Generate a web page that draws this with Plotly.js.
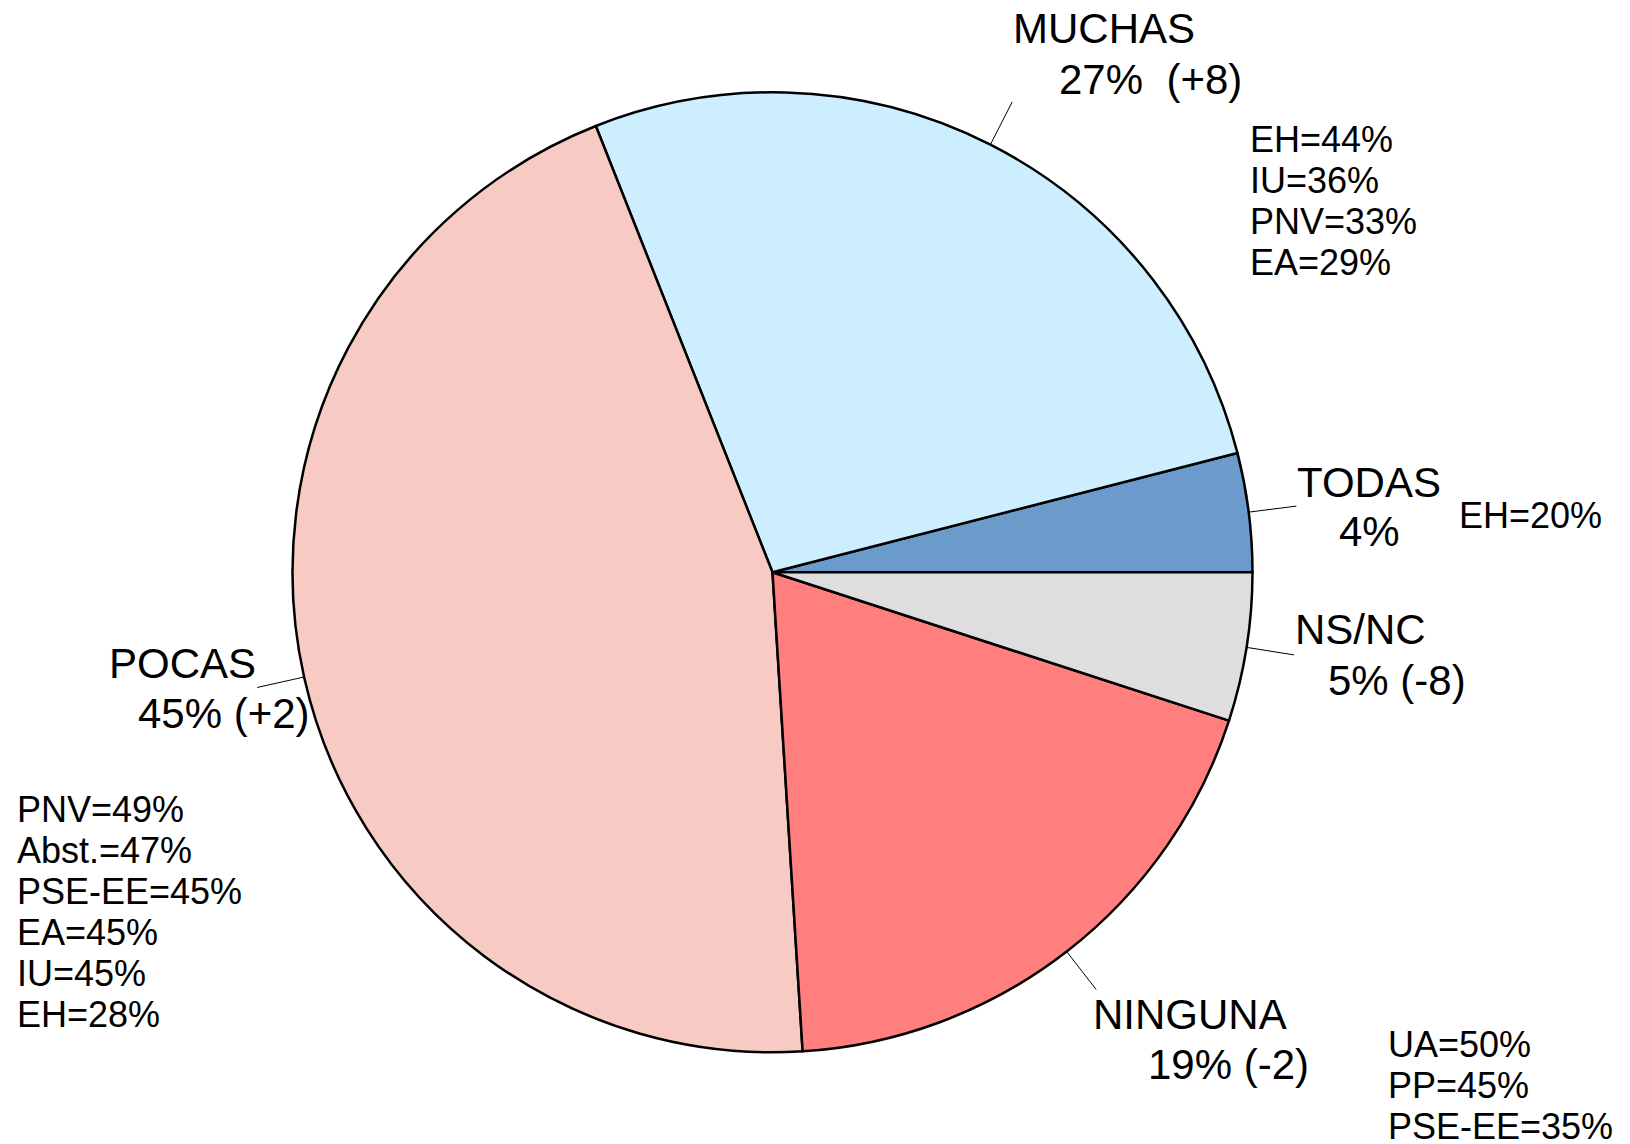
<!DOCTYPE html>
<html>
<head>
<meta charset="utf-8">
<script src="https://cdn.plot.ly/plotly-3.0.1.min.js"></script>
<style>html,body{margin:0;padding:0;background:#fff;}#chart{width:1630px;height:1144px;}</style>
</head>
<body>
<div id="chart"></div>
<script>
// ---- data ----
const categories = ['TODAS', 'MUCHAS', 'POCAS', 'NINGUNA', 'NS/NC'];
const values = [4, 27, 45, 19, 5];
const changes = ['', '(+8)', '(+2)', '(-2)', '(-8)'];
const partiesTODAS = ['EH=20%'];
const partiesMUCHAS = ['EH=44%', 'IU=36%', 'PNV=33%', 'EA=29%'];
const partiesPOCAS = ['PNV=49%', 'Abst.=47%', 'PSE-EE=45%', 'EA=45%', 'IU=45%', 'EH=28%'];
const partiesNINGUNA = ['UA=50%', 'PP=45%', 'PSE-EE=35%'];
const partiesNSNC = [];
const partyLists = [partiesTODAS, partiesMUCHAS, partiesPOCAS, partiesNINGUNA, partiesNSNC];

// ---- styling / layout ----
const colors = ['#6a9bcb', '#cdeeff', '#f7cbc3', '#ff7f7f', '#dedede'];
const W = 1630, H = 1144;
const cx = 772.5, cy = 572.3, R = 480;
const FONT = 'Liberation Sans, Arial, sans-serif';
const BIG = 42, SMALL = 36, LINE = 41;
// label placement (pixel): [line1 cx, line1 cy, line2 cx, line2 cy, gapInSecondLine]
const labelPos = [
  [1369, 482.5, 1369, 531, ' '],
  [1104, 29, 1150, 80, '\u00a0 '],
  [182.5, 663, 224, 713, ' '],
  [1190, 1014, 1228, 1064, ' '],
  [1360, 629.5, 1397, 680, ' ']
];
// party list placement: [left x, first line center y]
const listPos = [
  [1458, 515],
  [1249, 139.7],
  [16, 809.5],
  [1387, 1044],
  [0, 0]
];

const px = x => x / W;
const py = y => 1 - y / H;

const annotations = [];
const shapes = [];
function addText(text, x, y, size, anchor) {
  annotations.push({
    text: text, x: px(x), y: py(y), xref: 'paper', yref: 'paper',
    xanchor: anchor, yanchor: 'middle', showarrow: false, borderpad: 0,
    font: {family: FONT, size: size, color: '#000'}
  });
}

const total = values.reduce((a, b) => a + b, 0);
let cum = 0;
values.forEach((v, i) => {
  const mid = (cum + v / 2) / total * 2 * Math.PI; // counterclockwise from 3 o'clock
  cum += v;
  const x0 = cx + R * Math.cos(mid), y0 = cy - R * Math.sin(mid);
  const x1 = cx + R * 1.1 * Math.cos(mid), y1 = cy - R * 1.1 * Math.sin(mid);
  shapes.push({type: 'line', xref: 'paper', yref: 'paper',
    x0: px(x0), y0: py(y0), x1: px(x1), y1: py(y1),
    line: {color: '#000', width: 1}});
  const p = labelPos[i];
  addText(categories[i], p[0], p[1], BIG, 'center');
  const second = v + '%' + (changes[i] ? p[4] + changes[i] : '');
  addText(second, p[2], p[3], BIG, 'center');
  const lp = listPos[i];
  partyLists[i].forEach((t, k) => addText(t, lp[0], lp[1] + k * LINE, SMALL, 'left'));
});

// first slice starts at 3 o'clock and slices run counterclockwise
const trace = {
  type: 'pie',
  labels: categories,
  values: values,
  sort: false,
  direction: 'counterclockwise',
  rotation: 90 - values[0] / total * 360,
  textinfo: 'none',
  hoverinfo: 'skip',
  marker: {colors: colors, line: {color: '#000', width: 2.5}},
  domain: {x: [px(cx - R), px(cx + R)], y: [py(cy + R), py(cy - R)]},
  showlegend: false
};

const layout = {
  width: W, height: H,
  margin: {l: 0, r: 0, t: 0, b: 0},
  paper_bgcolor: '#fff',
  showlegend: false,
  annotations: annotations,
  shapes: shapes
};

Plotly.newPlot('chart', [trace], layout, {staticPlot: true, displayModeBar: false});
</script>
</body>
</html>
